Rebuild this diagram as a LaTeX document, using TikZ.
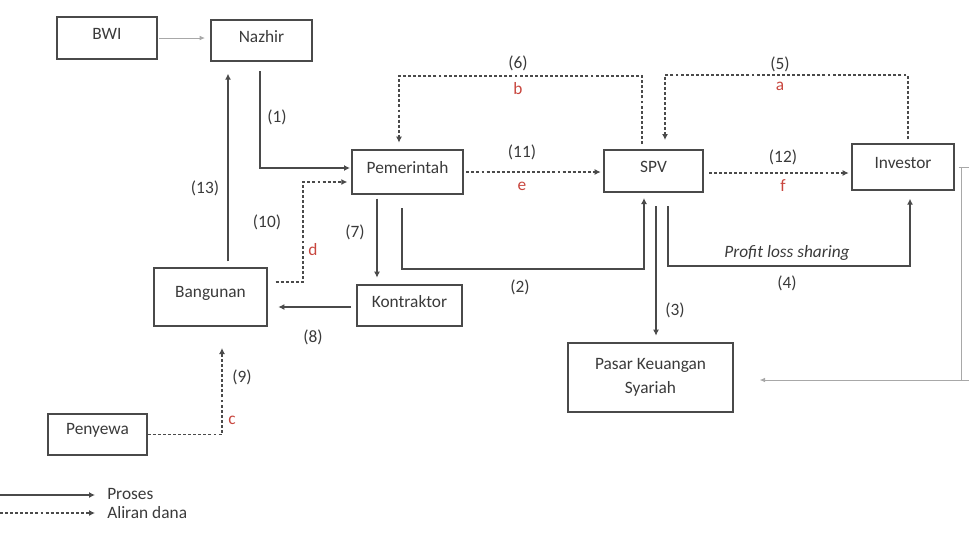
\documentclass[tikz,border=0pt]{standalone}
\usepackage{fontspec}
\setmainfont{Carlito}
\usetikzlibrary{arrows.meta,fit}
\definecolor{ink}{HTML}{3A3A3A}
\definecolor{lineg}{HTML}{4A4A4A}
\definecolor{lightg}{HTML}{A8A8A8}
\definecolor{redl}{HTML}{C8463E}
\tikzset{
  box/.style={draw=lineg, line width=1pt, inner sep=0pt},
  btxt/.style={label={[text=ink, align=center, inner sep=0pt, yshift=3pt]center:#1}},
  btxc/.style={label={[text=ink, align=center, inner sep=0pt]center:#1}},
  proc/.style={draw=lineg, line width=0.9pt, -{Latex[length=4.5pt,width=4.5pt]}},
  fund/.style={draw=lineg, line width=0.9pt, dash pattern=on 2.2pt off 1.6pt, -{Latex[length=4.5pt,width=4.5pt]}},
  faint/.style={draw=lightg, line width=0.7pt},
  fainta/.style={draw=lightg, line width=0.7pt, -{Latex[length=4pt,width=3.5pt]}},
  lbl/.style={text=ink, inner sep=0pt},
  rlbl/.style={text=redl, inner sep=0pt},
}
\begin{document}
\begin{tikzpicture}[x=0.75pt,y=-0.75pt,font=\fontsize{13}{15.6}\selectfont]
\useasboundingbox (0,0) rectangle (969,533);
% boxes
\node[box, fit={(57,17) (157,59)}, btxt={BWI}] (bwi) {};
\node[box, fit={(211,20) (312,61)}, btxt={Nazhir}] (naz) {};
\node[box, fit={(352,150) (463,194)}, btxt={Pemerintah}] (pem) {};
\node[box, fit={(604,150) (703,192)}, btxt={SPV}] (spv) {};
\node[box, fit={(852,144) (954,190)}, btxt={Investor}] (inv) {};
\node[box, fit={(357,285) (462,326)}, btxt={Kontraktor}] (kon) {};
\node[box, fit={(154,268) (267,326)}, btxt={Bangunan}] (ban) {};
\node[box, fit={(568,343) (733,412)}, btxc={Pasar Keuangan\\[2pt]Syariah}] (pas) {};
\node[box, fit={(48,414) (147,455)}, btxt={Penyewa}] (pen) {};

% BWI -> Nazhir
\draw[fainta, shorten <=1pt, shorten >=4pt] (bwi.east) -- (bwi.east -| naz.west);
% (1)
\draw[proc, shorten <=7pt, shorten >=1pt] (naz.south -| 260,0) |- (pem.west |- 0,168);
\node[lbl] (l1) at (277,117) {(1)};
% (13)
\draw[proc, shorten <=4.5pt, shorten >=9pt] (ban.north -| 228,0) -- (naz.south -| 228,0);
\node[lbl] (l13) at (205,188) {(13)};
% (10)
\draw[fund, shorten <=6pt, shorten >=3pt] (ban.east |- 0,282) -- (303,282) -- (303,182) -- (pem.west |- 0,182);
\node[lbl] (l10) at (267,222) {(10)};
\node[rlbl] (ld) at (313,250) {d};
% (7)
\draw[proc, shorten <=3pt, shorten >=5pt] (pem.south -| 377,0) -- (kon.north -| 377,0);
\node[lbl] (l7) at (355,232) {(7)};
% (8)
\draw[proc, shorten <=4pt, shorten >=8pt] (kon.west |- 0,307) -- (ban.east |- 0,307);
\node[lbl] (l8) at (313,337) {(8)};
% (9)
\draw[fund, shorten >=16pt] (pen.east) -| (ban.south -| 222,0);
\node[lbl] (l9) at (242,377) {(9)};
\node[rlbl] (lc) at (232,420) {c};
% (2)
\draw[proc, shorten <=10pt, shorten >=4pt] (pem.south -| 402,0) -- (402,269) -- (644,269) -- (spv.south -| 644,0);
\node[lbl] (l2) at (520,287) {(2)};
% (3)
\draw[proc, shorten <=10pt, shorten >=5pt] (spv.south -| 656,0) -- (pas.north -| 656,0);
\node[lbl] (l3) at (675,310) {(3)};
% (4)
\draw[proc, shorten <=10pt, shorten >=6pt] (spv.south -| 668,0) -- (668,266) -- (910,266) -- (inv.south -| 910,0);
\node[lbl] (lpls) at (787,253) {\itshape Profit loss sharing};
\node[lbl] (l4) at (787,283) {(4)};
% (6)
\draw[fund, shorten <=4pt, shorten >=5pt] (spv.north -| 642,0) -- (642,76) -- (399,76) -- (pem.north -| 399,0);
\node[lbl] (l6) at (518,63) {(6)};
\node[rlbl] (lb) at (518,89) {b};
% (5)
\draw[fund, shorten <=3pt, shorten >=7pt] (inv.north -| 908,0) -- (908,75) -- (665,75) -- (spv.north -| 665,0);
\node[lbl] (l5) at (780,64) {(5)};
\node[rlbl] (la) at (780,86) {a};
% (11)
\draw[fund, shorten <=2pt, shorten >=2pt] (pem.east |- 0,172) -- (spv.west |- 0,172);
\node[lbl] (l11) at (522,152) {(11)};
\node[rlbl] (le) at (522,186) {e};
% (12)
\draw[fund, shorten <=4pt, shorten >=2pt] (spv.east |- 0,173) -- (inv.west |- 0,173);
\node[lbl] (l12) at (783,157) {(12)};
\node[rlbl] (lf) at (783,186) {f};
% right edge faint lines
\coordinate (rtop) at (969,167);
\coordinate (rcor) at (961,167);
\coordinate (rbot) at (961,380);
\coordinate (rend) at (969,380);
\draw[faint, shorten <=3pt] (inv.east |- 0,167) -- (rtop);
\draw[faint] (rcor) -- (rbot);
\draw[fainta, shorten >=19.5pt] (rend) -- (pas.east |- 0,380);

% legend
\coordinate (lg1a) at (0,495);
\coordinate (lg1b) at (95,495);
\coordinate (lg2a) at (0,513);
\coordinate (lg2b) at (95,513);
\draw[proc] (lg1a) -- (lg1b);
\draw[fund] (lg2a) -- (lg2b);
\node[lbl, anchor=west] (lgp) at (107,494) {Proses};
\node[lbl, anchor=west] (lga) at (107,513) {Aliran dana};
\end{tikzpicture}
\end{document}
